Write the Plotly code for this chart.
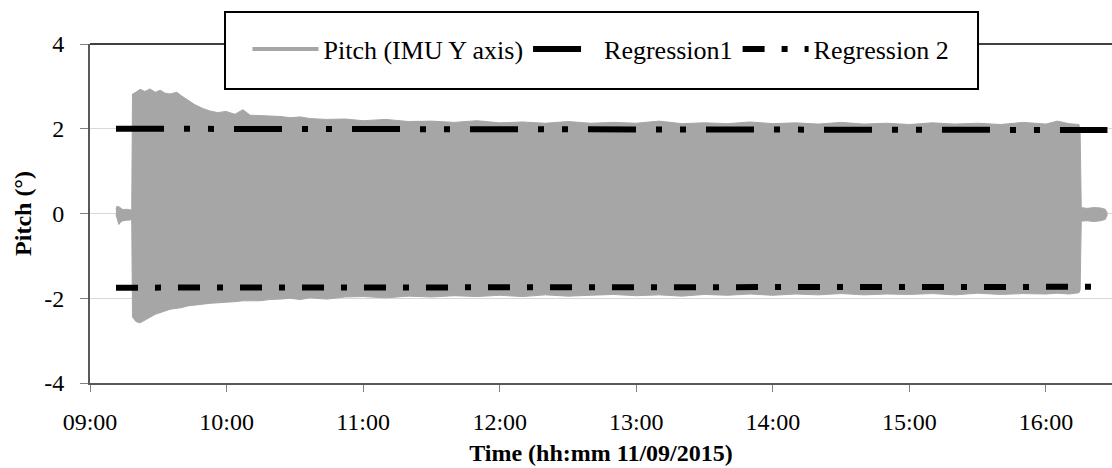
import plotly.graph_objects as go

DATE = "2015-09-11 "

# Pitch signal envelope (time, upper edge, lower edge)
sig_time = [
    "09:11:25", "09:11:50", "09:12:40", "09:13:30", "09:14:30", "09:16:00", "09:17:30", "09:18:20",
    "09:18:40", "09:20:10", "09:22:00", "09:24:10", "09:26:20", "09:28:40", "09:30:50", "09:33:00",
    "09:35:10", "09:38:10", "09:40:20", "09:43:00", "09:46:00", "09:49:30", "09:52:40", "09:56:10",
    "09:59:40", "10:03:40", "10:07:10", "10:10:20", "10:14:40", "10:19:00", "10:23:30", "10:28:00",
    "10:32:20", "10:36:40", "10:44:00", "10:52:00", "11:00:00", "11:10:00", "11:20:00", "11:30:00",
    "11:40:00", "11:50:00", "12:00:00", "12:10:00", "12:20:00", "12:30:00", "12:40:00", "12:50:00",
    "13:00:00", "13:10:00", "13:20:00", "13:30:00", "13:40:00", "13:50:00", "14:00:00", "14:10:00",
    "14:20:00", "14:30:00", "14:40:00", "14:50:00", "15:00:00", "15:10:00", "15:20:00", "15:30:00",
    "15:40:00", "15:50:00", "16:00:00", "16:05:00", "16:10:00", "16:14:30", "16:15:00", "16:15:30",
    "16:18:00", "16:21:00", "16:24:00", "16:26:00", "16:26:50",
]
sig_upper = [
    0.10, 0.17, 0.16, 0.12, 0.09, 0.10, 0.08, 0.08,
    2.82, 2.86, 2.93, 2.88, 2.94, 2.86, 2.91, 2.84,
    2.82, 2.86, 2.77, 2.68, 2.57, 2.48, 2.42, 2.38,
    2.41, 2.34, 2.45, 2.32, 2.31, 2.29, 2.29, 2.26,
    2.28, 2.24, 2.22, 2.23, 2.19, 2.22, 2.17, 2.18,
    2.15, 2.19, 2.14, 2.16, 2.13, 2.17, 2.13, 2.15,
    2.13, 2.18, 2.12, 2.14, 2.12, 2.16, 2.12, 2.14,
    2.11, 2.15, 2.11, 2.13, 2.10, 2.14, 2.11, 2.13,
    2.10, 2.15, 2.11, 2.18, 2.12, 2.10, 1.90, 0.14,
    0.12, 0.14, 0.13, 0.10, 0.02,
]
sig_lower = [
    -0.02, -0.08, -0.26, -0.20, -0.17, -0.16, -0.15, -0.15,
    -2.44, -2.55, -2.58, -2.52, -2.45, -2.38, -2.34, -2.30,
    -2.26, -2.24, -2.22, -2.18, -2.16, -2.14, -2.12, -2.10,
    -2.09, -2.08, -2.06, -2.05, -2.06, -2.03, -2.02, -2.00,
    -2.03, -1.99, -2.02, -1.97, -1.96, -1.99, -1.95, -1.97,
    -1.94, -1.96, -1.93, -1.96, -1.92, -1.95, -1.93, -1.91,
    -1.94, -1.92, -1.95, -1.91, -1.93, -1.90, -1.93, -1.90,
    -1.92, -1.89, -1.92, -1.90, -1.91, -1.89, -1.92, -1.88,
    -1.91, -1.89, -1.90, -1.88, -1.90, -1.87, -1.80, -0.18,
    -0.17, -0.19, -0.17, -0.14, -0.05,
]

# Regression lines (start / end)
reg_time = ["09:11:25", "16:27:00"]
reg1 = [2.00, 1.97]
reg2 = [-1.75, -1.73]

y_ticks = [-4, -2, 0, 2, 4]
y_tick_text = ["-4", "-2", "0", "2", "4"]

FONT = "Liberation Serif"
GRAY = "#a6a6a6"

t_full = [DATE + t for t in sig_time]
poly_x = t_full + t_full[::-1]
poly_y = sig_upper + sig_lower[::-1]

fig = go.Figure()
fig.add_trace(go.Scatter(
    x=poly_x, y=poly_y, mode="lines", fill="toself", fillcolor=GRAY,
    line=dict(color=GRAY, width=1), showlegend=False, hoverinfo="skip"))
fig.add_trace(go.Scatter(
    x=[None], y=[None], mode="lines", name="Pitch (IMU Y axis)",
    line=dict(color=GRAY, width=4)))
fig.add_trace(go.Scatter(
    x=[DATE + t for t in reg_time], y=reg1, mode="lines", name="Regression1",
    line=dict(color="black", width=6, dash="48px,20px,6px,18px,6px,20px")))
fig.add_trace(go.Scatter(
    x=[DATE + t for t in reg_time], y=reg2, mode="lines", name="Regression 2",
    line=dict(color="black", width=6, dash="22px,17px,6px,17px")))

fig.update_layout(
    width=1112, height=468,
    margin=dict(l=90, r=0, t=44, b=85),
    paper_bgcolor="white", plot_bgcolor="white",
    font=dict(family=FONT, size=24, color="black"),
    legend=dict(orientation="h", x=0.5, xanchor="center", y=0.985, yanchor="middle",
                font=dict(family=FONT, size=26, color="black"),
                itemwidth=66,
                bgcolor="rgba(0,0,0,0)", borderwidth=0),
    shapes=[
        dict(type="line", xref="paper", yref="paper", x0=0, x1=1, y0=1, y1=1,
             line=dict(color="black", width=1.5), layer="above"),
        dict(type="rect", xref="paper", yref="paper", x0=0.1321, x1=0.8689,
             y0=0.8673, y1=1.0944, fillcolor="white",
             line=dict(color="black", width=2), layer="above"),
    ],
)

fig.update_xaxes(
    type="date",
    range=[DATE + "09:00:00", DATE + "16:29:00"],
    tick0=DATE + "09:00:00", dtick=3600000, tickformat="%H:%M",
    ticks="outside", ticklen=7, tickcolor="#808080", tickwidth=1,
    showline=True, linecolor="#595959", linewidth=2,
    showgrid=False, zeroline=False,
    ticklabelstandoff=9,
    tickfont=dict(family=FONT, size=24, color="black"),
    title=dict(text="<b>Time (hh:mm 11/09/2015)</b>", standoff=10,
               font=dict(family=FONT, size=24, color="black")),
)
fig.update_yaxes(
    range=[-4, 4], tickvals=y_ticks, ticktext=y_tick_text,
    ticks="outside", ticklen=8, tickcolor="#808080", tickwidth=1,
    showline=True, linecolor="#595959", linewidth=2,
    showgrid=True, gridcolor="#d9d9d9", gridwidth=1, zeroline=False,
    ticklabelstandoff=11,
    tickfont=dict(family=FONT, size=24, color="black"),
    title=dict(text="<b>Pitch (°)</b>", standoff=6,
               font=dict(family=FONT, size=24, color="black")),
)

fig.write_html("out.html")
